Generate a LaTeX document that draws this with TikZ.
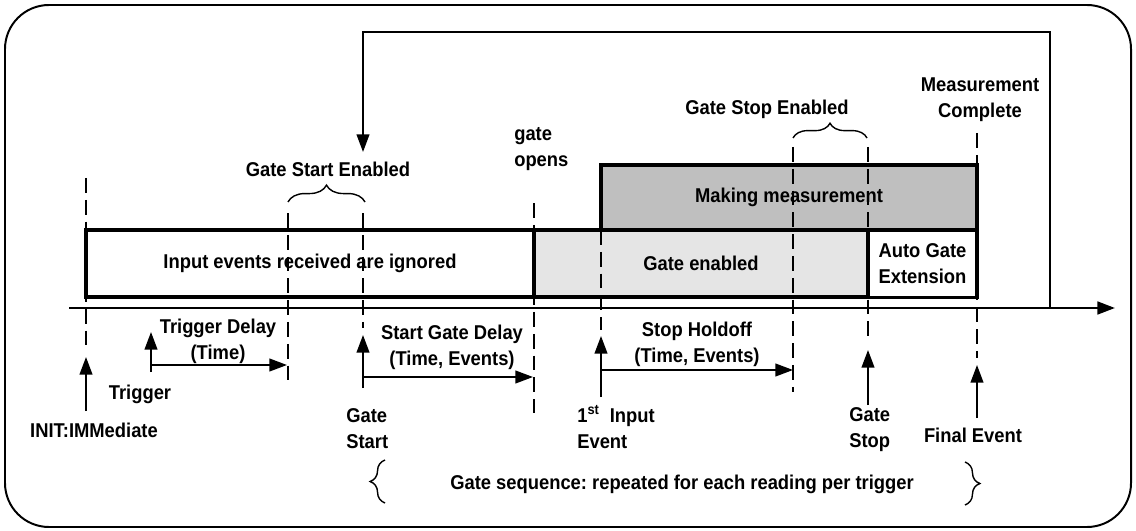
\documentclass[tikz,border=0pt]{standalone}
\usepackage{fontspec}
\setmainfont{Liberation Sans}[FakeStretch=0.92]
\usepackage{tikz}
\usetikzlibrary{arrows.meta,decorations.pathreplacing}
\newcommand{\gfont}{\bfseries\fontsize{14.2}{18.4}\selectfont}
\newcommand{\gguide}[3]{\draw[guide] (#1,#2) -- (#1,#3);}
\newcommand{\gevent}[4]{%
  \coordinate (#1b) at (#2,#3); \coordinate (#1t) at (#2,#4);
  \draw[arr] (#1b) -- (#1t);}
\newcommand{\gdelay}[4]{%
  \coordinate (#1s) at (#2,#4); \coordinate (#1e) at (#3,#4);
  \draw[arr] (#1s) -- (#1e);}
\tikzset{
  lbl/.style={font=\gfont,inner sep=0pt},
  phase/.style={draw,line width=2.4pt,font=\gfont,inner sep=0pt},
  guide/.style={line width=2pt,dash pattern=on 10.5pt off 5pt},
  arr/.style={line width=1.4pt,-{Triangle[length=12.5pt,width=9pt]}},
  brc/.style={decorate,decoration={brace,amplitude=#1},line width=1pt},
}

\begin{document}
\frenchspacing
\begin{tikzpicture}[x=0.025cm,y=-0.025cm]
  \useasboundingbox (0,0) rectangle (1136,531);
  \draw[line width=1.4pt,rounded corners=1.1cm] (5,5) rectangle (1131,527);
  % phases of one reading
  \node[phase,fill=white,minimum width=11.2cm,minimum height=1.675cm] (ignored) at (310,263.5) {Input events received are ignored};
  \node[phase,fill=gray!20,minimum width=8.35cm,minimum height=1.675cm] (enabled) at (701,263.5) {Gate enabled};
  \node[phase,fill=white,minimum width=2.725cm,minimum height=1.675cm,align=center] (autoext) at (922.5,264) {Auto Gate\\Extension};
  \node[phase,fill=gray!50,minimum width=9.4cm,minimum height=1.625cm] (making) at (789,197.5) {Making measurement};
  % dashed markers
  \gguide{86}{178}{350}
  \gguide{288}{213}{380}
  \gguide{363}{213}{328}
  \gguide{534}{203}{413}
  \gguide{601}{230}{330}
  \gguide{793}{147}{392}
  \gguide{868}{147}{343}
  \gguide{977}{133}{358}
  % time axis and loop back
  \coordinate (ax0) at (69,308); \coordinate (ax1) at (1115,308);
  \draw[arr,line width=1.9pt] (ax0) -- (ax1);
  \coordinate (fbfoot) at (1050,308);
  \coordinate (fbcorner) at (1050,32);
  \coordinate (fbtip) at (363,152);
  \draw[arr,line width=1.3pt] (fbfoot) -- (fbcorner) -| (fbtip);
  % events
  \gevent{init}{86}{411}{357}
  \gevent{trig}{151}{372}{332}
  \gevent{gstart}{363}{388}{335}
  \gevent{first}{601}{397}{336}
  \gevent{gstop}{868}{405}{350}
  \gevent{final}{977}{418}{365}
  \gdelay{tdel}{151}{287}{365}
  \gdelay{sdel}{363}{533}{377}
  \gdelay{hold}{601}{793}{370}
  % braces
  \draw[brc=12pt] (288,202) -- (365,202);
  \draw[brc=10.5pt] (793,138) -- (867,138);
  \draw[brc=10.6pt] (385,503) -- (385,460);
  \draw[brc=10.6pt] (965,462) -- (965,505);
  % labels
  \node[lbl,anchor=base] (gsen) at (328,177) {Gate Start Enabled};
  \node[lbl,anchor=base] (gspen) at (767,115) {Gate Stop Enabled};
  \node[lbl,anchor=west,align=left] (opens) at (514,149) {gate\\opens};
  \node[lbl,align=center] (mcomp) at (980,100) {Measurement\\Complete};
  \node[lbl,align=center] (tdl) at (218,341) {Trigger Delay\\(Time)};
  \node[lbl,align=center] (sdl) at (452,347) {Start Gate Delay\\(Time, Events)};
  \node[lbl,align=center] (hdl) at (697,344) {Stop Holdoff\\(Time, Events)};
  \node[lbl,anchor=base] (trigl) at (140,399) {Trigger};
  \node[lbl,anchor=base] (initl) at (94,437) {INIT:IMMediate};
  \node[lbl,anchor=west,align=left] (gsl) at (346,429) {Gate\\Start};
  \node[lbl,anchor=west,align=left] (fil) at (577,427) {1\textsuperscript{st}\ \ Input\\Event};
  \node[lbl,anchor=west,align=left] (gpl) at (849,430) {Gate\\Stop};
  \node[lbl,anchor=base] (finl) at (973,442) {Final Event};
  \node[lbl,anchor=base] (seq) at (682,489) {Gate sequence: repeated for each reading per trigger};
\end{tikzpicture}
\end{document}
